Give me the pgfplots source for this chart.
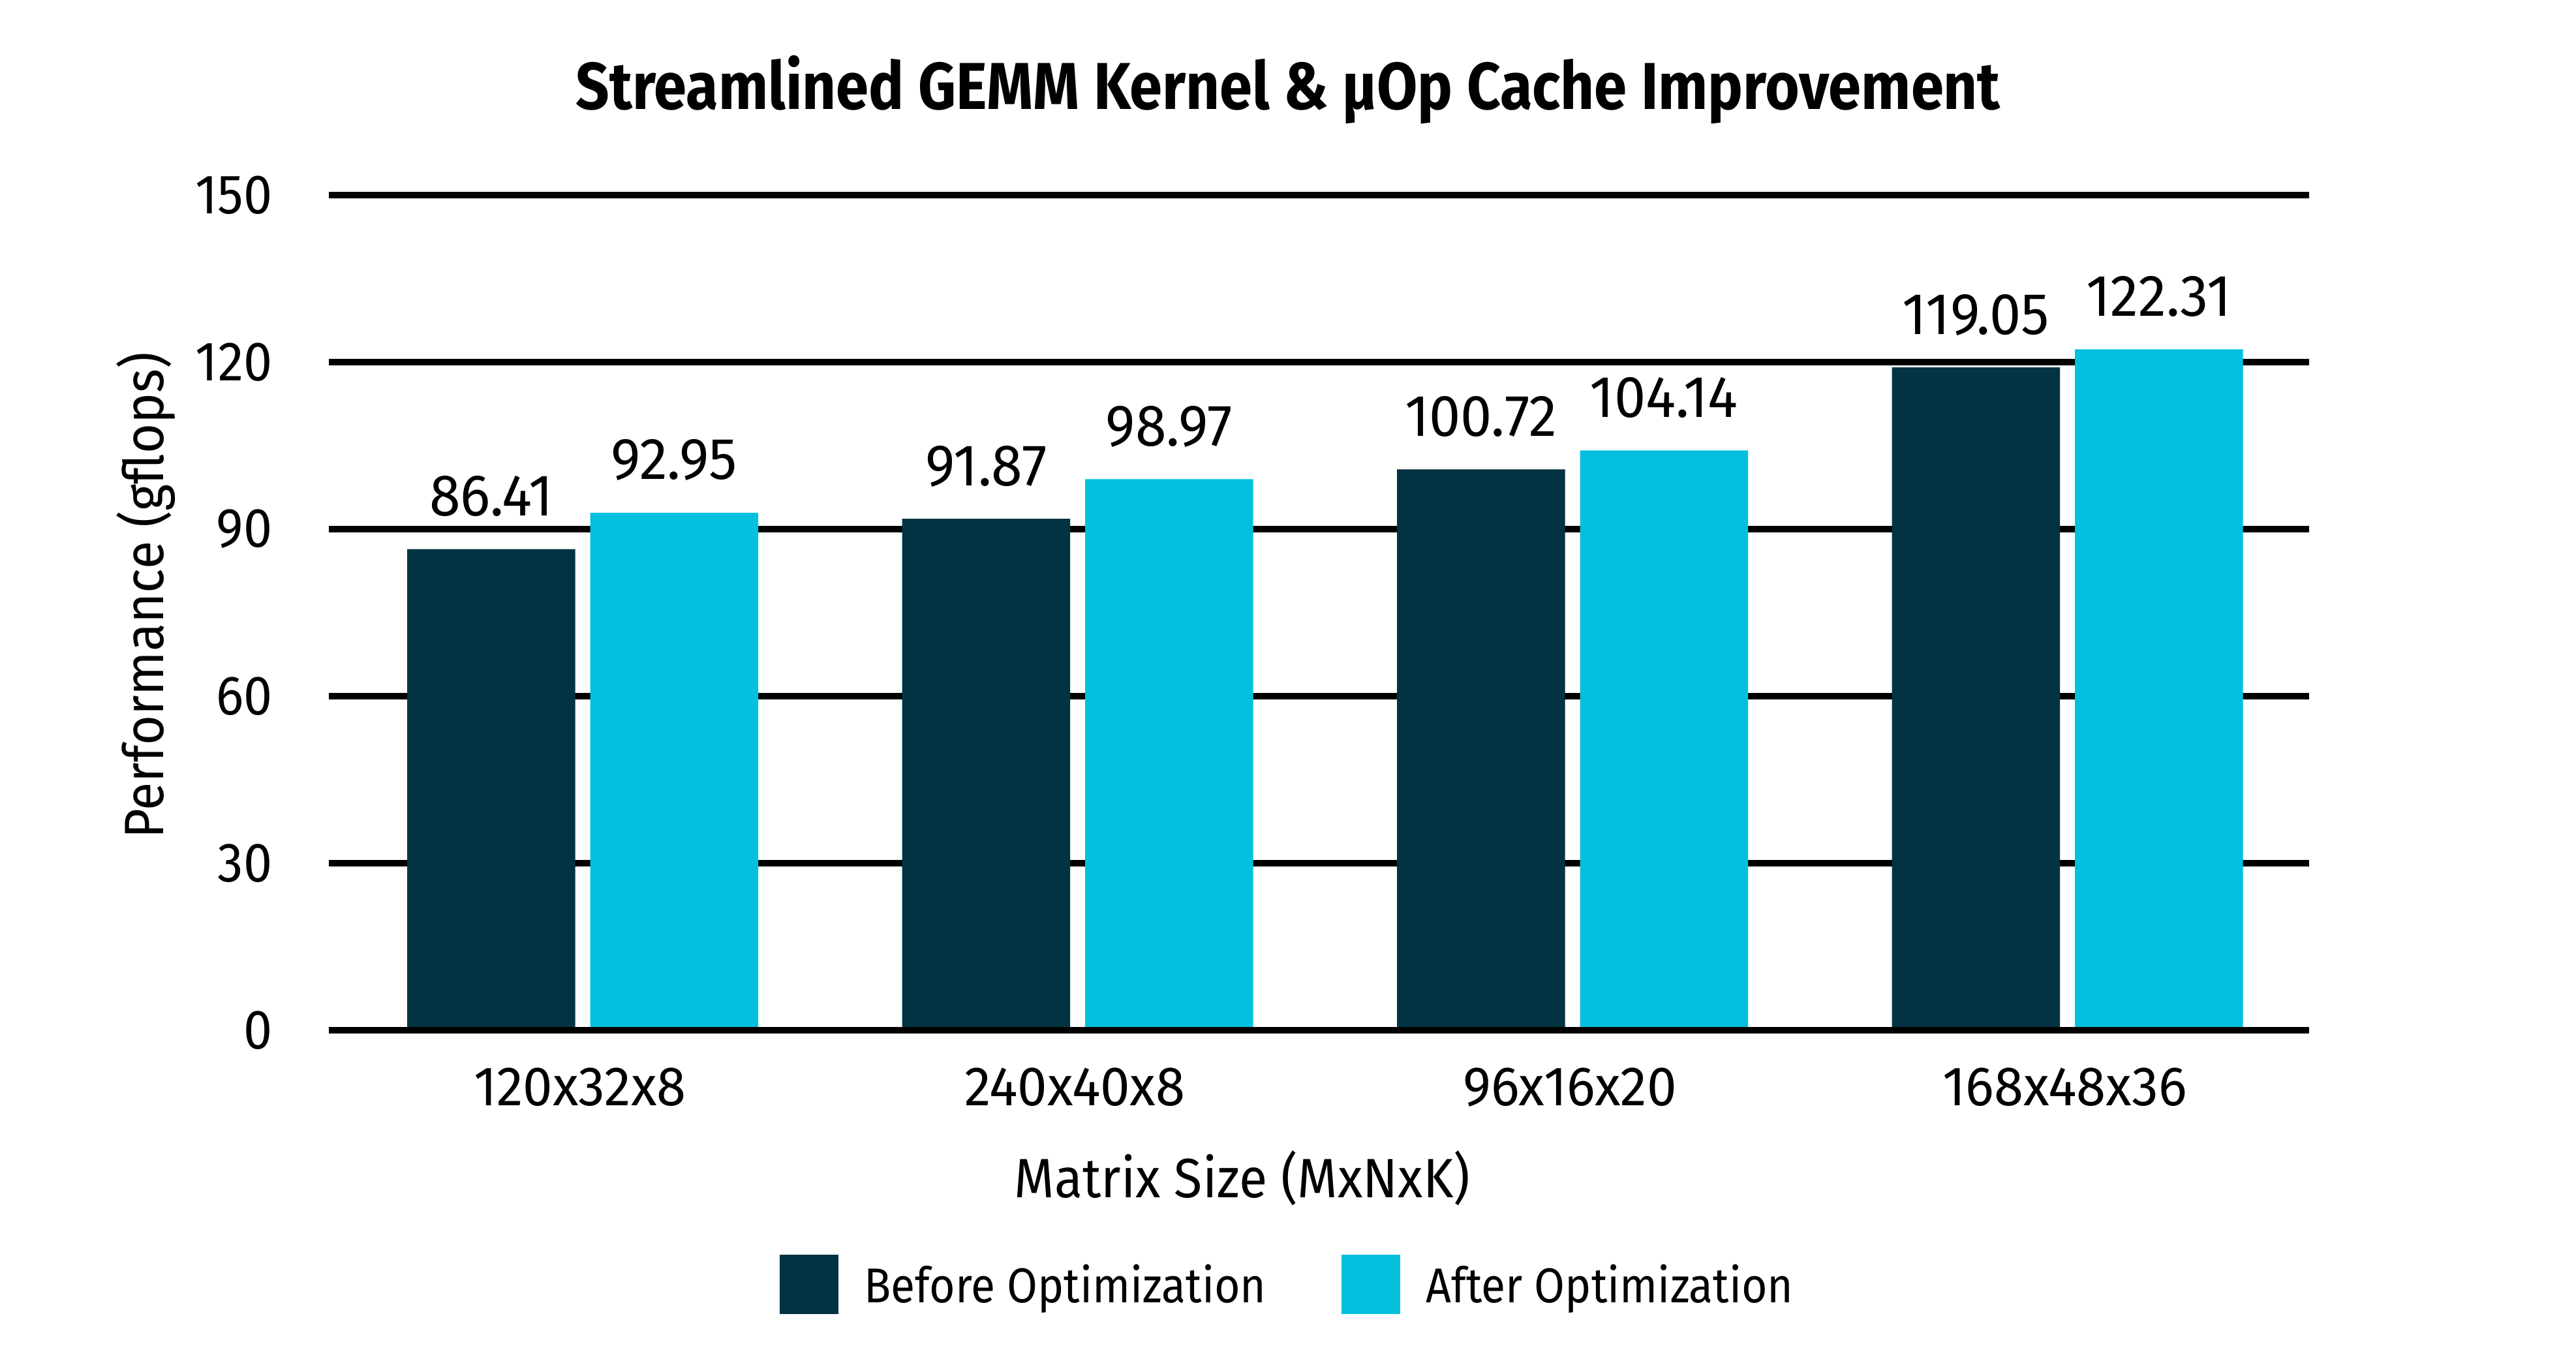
\documentclass[border=0pt]{standalone}
\usepackage{fontspec}
\setmainfont{Fira Sans}[FakeStretch=0.93]
\newfontfamily\numfont{Fira Sans}[FakeStretch=0.96]
\newfontfamily\legfont{Fira Sans}[FakeStretch=0.905]
\newfontfamily\titlefont{Fira Sans}[FakeStretch=0.888]
\usepackage{pgfplots}
\pgfplotsset{compat=1.18}
\definecolor{before}{RGB}{2,51,66}
\definecolor{after}{RGB}{4,192,222}
\newcommand\lab{\fontsize{10.2}{12}\selectfont}
\newcommand\xlab{\numfont\fontsize{10.2}{12}\selectfont}
\newcommand\num{\numfont\fontsize{10.8}{12}\selectfont}
\newcommand\leg{\legfont\fontsize{9}{11}\selectfont}
\newcommand\ttl{\titlefont\fontsize{12.2}{14}\selectfont\bfseries}
\pgfplotsset{every axis title/.style={at={(axis description cs:0.4844,1.1024)}, anchor=base, font=\ttl, inner sep=0pt}}
\begin{document}
\begin{tikzpicture}
\path[use as bounding box] (0,0) rectangle (473.76pt,250.68pt);
\begin{axis}[
  at={(60.48pt,61.2pt)}, anchor=south west,
  width=364.2pt, height=153.6pt, scale only axis,
  xmin=-0.5129, xmax=3.4885, ymin=0, ymax=150,
  axis line style={draw=none},
  major tick length=0pt,
  ytick={0,30,60,90,120,150},
  xtick={0,1,2,3},
  xticklabels={120x32x8,240x40x8,96x16x20,168x48x36},
  ymajorgrids, grid style={black, line width=1.2pt},
  /pgf/number format/assume math mode=true,
  yticklabel style={font=\lab, anchor=east, inner sep=0pt, xshift=-10.2pt},
  xticklabel style={font=\xlab, anchor=base, inner sep=0pt, yshift=-13.9pt, xshift=-0.5pt},
  nodes near coords={\pgfmathprintnumber[fixed,fixed zerofill,precision=2]{\pgfplotspointmeta}},
  nodes near coords style={font=\num, anchor=base, inner sep=0pt, yshift=6.1pt},
  title={Streamlined GEMM Kernel \& μOp Cache Improvement},
  xlabel={Matrix Size (MxNxK)},
  xlabel style={at={(axis description cs:0.4613,-0.2003)}, anchor=base, font=\lab, inner sep=0pt},
  ylabel={Performance (gflops)},
  ylabel style={at={(axis description cs:-0.0923,0.5203)}, anchor=center, font=\lab, inner sep=0pt},
  legend style={at={(axis description cs:0.4837,-0.3043)}, anchor=center, draw=none, fill=none,
    inner sep=0pt, font=\leg, nodes={inner sep=0pt},
    /tikz/every odd column/.append style={column sep=4.8pt},
    /tikz/every even column/.append style={column sep=13.9pt}},
  legend columns=2,
  legend image code/.code={\fill[#1] (0pt,-4.9pt) rectangle (10.7pt,6.0pt);},
]
% bars placed at category position -/+ 0.1849 (half the bar pitch)
\addplot[ybar, bar width=30.9pt, bar shift=0pt, fill=before, draw=none]
  coordinates {(-0.1849,86.41) (0.8151,91.87) (1.8151,100.72) (2.8151,119.05)};
\addplot[ybar, bar width=30.9pt, bar shift=0pt, fill=after, draw=none]
  coordinates {(0.1849,92.95) (1.1849,98.97) (2.1849,104.14) (3.1849,122.31)};
\legend{Before Optimization, After Optimization}
\draw[black, line width=1.2pt] (rel axis cs:0,0) -- (rel axis cs:1,0);
\end{axis}
\end{tikzpicture}
\end{document}
